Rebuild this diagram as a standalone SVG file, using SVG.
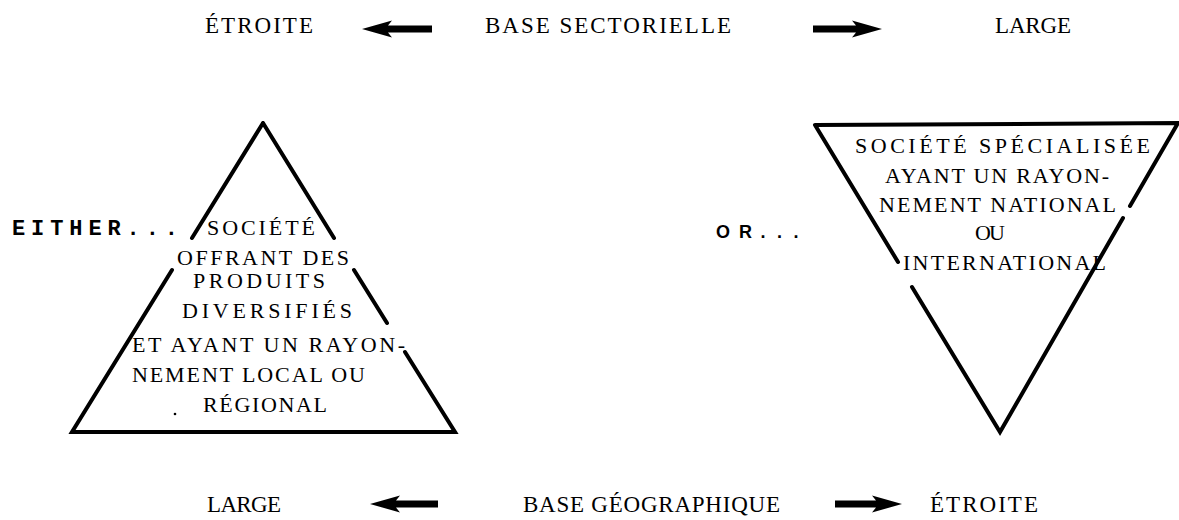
<svg xmlns="http://www.w3.org/2000/svg" width="1179" height="520" viewBox="0 0 1179 520">
<style>
.bg{fill:#fff}
.ln{stroke:#000;stroke-width:4;fill:none;stroke-linecap:round}
.ar{fill:#000}
.t{font-family:"Liberation Serif","Times New Roman",serif;font-size:22px;fill:#000}
.h{font-family:"Liberation Serif","Times New Roman",serif;font-size:23px;fill:#000}
.b{font-family:"Liberation Mono","Courier New",monospace;font-size:22px;font-weight:bold;fill:#000}
.s{font-family:"Liberation Sans","Arial",sans-serif;font-size:18px;font-weight:bold;fill:#000}
</style>
<rect class="bg" x="0" y="0" width="1179" height="520"/>
<g id="axis-top">
<text class="h" x="205" y="33" textLength="108" lengthAdjust="spacing">ÉTROITE</text>
<text class="h" x="485" y="33" textLength="246" lengthAdjust="spacing">BASE SECTORIELLE</text>
<text class="h" x="995" y="33" textLength="76" lengthAdjust="spacing">LARGE</text>
</g>
<g id="axis-bottom">
<text class="h" x="207" y="512" textLength="74" lengthAdjust="spacing">LARGE</text>
<text class="h" x="523" y="512" textLength="257" lengthAdjust="spacing">BASE GÉOGRAPHIQUE</text>
<text class="h" x="930" y="512" textLength="108" lengthAdjust="spacing">ÉTROITE</text>
</g>
<g id="connectors">
<path class="ar" d="M362,29 L392,20.5 L388,25.5 L432,25.5 L432,32.5 L388,32.5 L392,37.5 Z"/>
<path class="ar" d="M882,29 L852,20.5 L856,25.5 L813,25.5 L813,32.5 L856,32.5 L852,37.5 Z"/>
<path class="ar" d="M370,504 L400,495.5 L396,500.5 L438,500.5 L438,507.5 L396,507.5 L400,512.5 Z"/>
<path class="ar" d="M902,504 L872,495.5 L876,500.5 L835,500.5 L835,507.5 L876,507.5 L872,512.5 Z"/>
</g>
<g id="either">
<text class="b" x="12" y="235" textLength="166" lengthAdjust="spacing">EITHER...</text>
</g>
<g id="triangle-up">
<path class="ln" d="M263,123 L192,238 M172,270 L72,432 L455,432 L405,352 M387,323 L354,270 M334,238 L263,123"/>
<text class="t" x="207" y="235" textLength="108" lengthAdjust="spacing">SOCIÉTÉ</text>
<text class="t" x="177" y="265" textLength="172" lengthAdjust="spacing">OFFRANT DES</text>
<text class="t" x="193" y="288" textLength="132" lengthAdjust="spacing">PRODUITS</text>
<text class="t" x="182" y="318" textLength="170" lengthAdjust="spacing">DIVERSIFIÉS</text>
<text class="t" x="132" y="352" textLength="273" lengthAdjust="spacing">ET AYANT UN RAYON-</text>
<text class="t" x="132" y="382" textLength="233" lengthAdjust="spacing">NEMENT LOCAL OU</text>
<text class="t" x="203" y="412" textLength="124" lengthAdjust="spacing">RÉGIONAL</text>
<circle cx="175" cy="414" r="1.3" fill="#000"/>
</g>
<g id="or">
<text class="s" x="716" y="238" textLength="36" lengthAdjust="spacing">OR</text>
<text class="s" x="760.5" y="238" letter-spacing="11.5">...</text>
</g>
<g id="triangle-down">
<path class="ln" d="M815,125 L1178,123 L1130,206 M1123,218 L1000,432 L912,287 M898,262 L815,125"/>
<text class="t" x="855" y="153" textLength="295" lengthAdjust="spacing">SOCIÉTÉ SPÉCIALISÉE</text>
<text class="t" x="885" y="183" textLength="224" lengthAdjust="spacing">AYANT UN RAYON-</text>
<text class="t" x="879" y="212" textLength="237" lengthAdjust="spacing">NEMENT NATIONAL</text>
<text class="t" x="975" y="240" textLength="30" lengthAdjust="spacing">OU</text>
<text class="t" x="903" y="270" textLength="203" lengthAdjust="spacing">INTERNATIONAL</text>
</g>
</svg>
